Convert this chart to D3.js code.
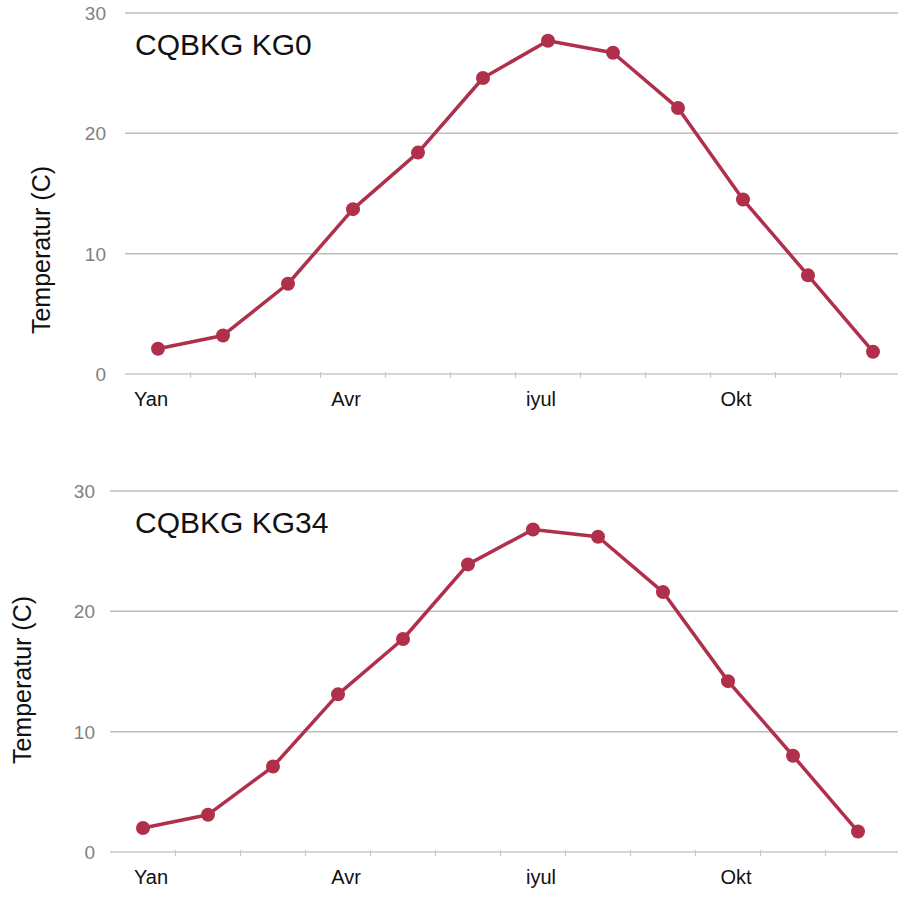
<!DOCTYPE html>
<html>
<head>
<meta charset="utf-8">
<script src="https://cdn.jsdelivr.net/npm/d3@7"></script>
<style>
  html, body { margin: 0; padding: 0; background: #ffffff; }
  svg { display: block; }
  text { font-family: "Liberation Sans", Arial, sans-serif; }
</style>
</head>
<body>
<svg id="chart" width="898" height="898"></svg>
<script>
// ---- data ----
const months = ["Yan","Fev","Mar","Avr","May","İyun","iyul","Avq","Sen","Okt","Noy","Dek"];
const monthTickLabels = ["Yan","Avr","iyul","Okt"];
const yTicks = [0, 10, 20, 30];
const chartTitles = ["CQBKG KG0", "CQBKG KG34"];
const yAxisTitle = "Temperatur (C)";
const kg0Values  = [2.1, 3.2, 7.5, 13.7, 18.4, 24.6, 27.7, 26.7, 22.1, 14.5, 8.2, 1.85];
const kg34Values = [2.0, 3.1, 7.1, 13.1, 17.7, 23.9, 26.8, 26.2, 21.6, 14.2, 8.0, 1.7];

// ---- layout ----
const panels = [
  { values: kg0Values,  title: chartTitles[0], top: 13,  bottom: 374, firstX: 158, lastX: 873,
    gridX0: 125, gridX1: 898, tickLabelRight: 106, labelDx: -7, axisTitleX: 50, axisTitleY: 250 },
  { values: kg34Values, title: chartTitles[1], top: 491, bottom: 852, firstX: 143, lastX: 858,
    gridX0: 110, gridX1: 898, tickLabelRight: 95, labelDx: 8, axisTitleX: 31, axisTitleY: 680 }
];

const svg = d3.select("#chart");
const lineColor = "#b0304c";

panels.forEach(p => {
  const g = svg.append("g");
  const x = d3.scalePoint().domain(months).range([p.firstX, p.lastX]);
  const y = d3.scaleLinear().domain([0, 30]).range([p.bottom, p.top]);
  const step = x.step();

  // gridlines
  g.selectAll(".grid").data(yTicks).join("line")
    .attr("x1", p.gridX0).attr("x2", p.gridX1)
    .attr("y1", d => y(d)).attr("y2", d => y(d))
    .attr("stroke", d => d === 0 ? "#c8c8c8" : "#bdbdbd")
    .attr("stroke-width", 1.5);

  // y tick labels
  g.selectAll(".ylab").data(yTicks).join("text")
    .attr("x", p.tickLabelRight).attr("y", d => y(d))
    .attr("dy", "0.36em")
    .attr("text-anchor", "end")
    .attr("font-size", 19)
    .attr("fill", "#808080")
    .text(d => d);

  // x ticks between months
  g.selectAll(".xtick").data(months.slice(0, -1)).join("line")
    .attr("x1", d => x(d) + step / 2).attr("x2", d => x(d) + step / 2)
    .attr("y1", p.bottom - 2).attr("y2", p.bottom + 4)
    .attr("stroke", "#c8c8c8").attr("stroke-width", 1.2);

  // x labels
  g.selectAll(".xlab").data(monthTickLabels).join("text")
    .attr("x", d => x(d) + p.labelDx)
    .attr("y", p.bottom + 32)
    .attr("text-anchor", "middle")
    .attr("font-size", 20)
    .attr("fill", "#111")
    .text(d => d);

  // axis title
  g.append("text")
    .attr("transform", `translate(${p.axisTitleX},${p.axisTitleY}) rotate(-90)`)
    .attr("text-anchor", "middle")
    .attr("font-size", 25)
    .attr("fill", "#111")
    .text(yAxisTitle);

  // chart title
  g.append("text")
    .attr("x", 135).attr("y", p.top + 42)
    .attr("font-size", 30)
    .attr("fill", "#111")
    .text(p.title);

  // line
  const line = d3.line().x((d, i) => x(months[i])).y(d => y(d));
  g.append("path").datum(p.values)
    .attr("d", line)
    .attr("fill", "none")
    .attr("stroke", lineColor)
    .attr("stroke-width", 3.5)
    .attr("stroke-linejoin", "round");

  g.selectAll(".pt").data(p.values).join("circle")
    .attr("cx", (d, i) => x(months[i]))
    .attr("cy", d => y(d))
    .attr("r", 7)
    .attr("fill", lineColor);
});
</script>
</body>
</html>
